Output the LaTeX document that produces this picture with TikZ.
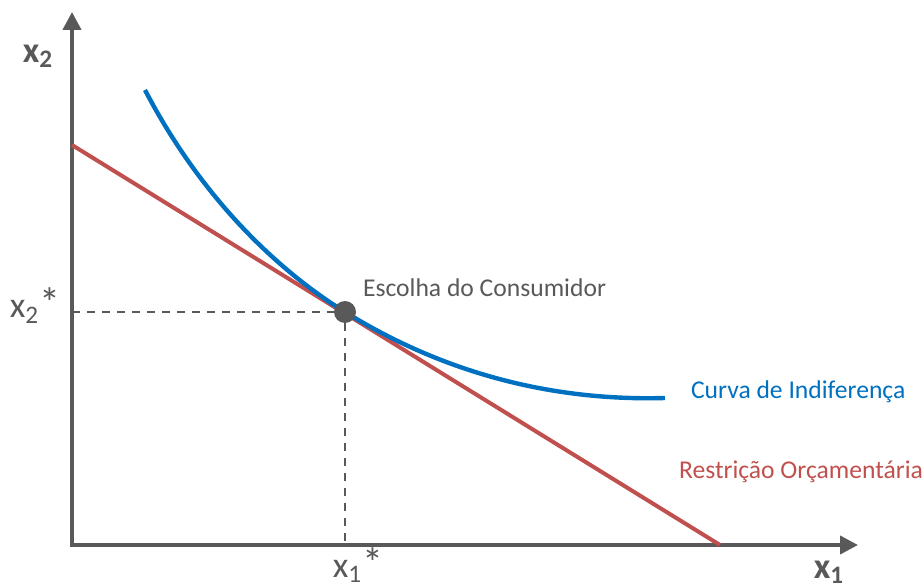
\documentclass[tikz,border=0pt]{standalone}
\usepackage{fontspec}
\setmainfont{Carlito}
\usetikzlibrary{positioning,arrows.meta}
\definecolor{axisgray}{HTML}{595959}
\definecolor{curveblue}{HTML}{0070C0}
\definecolor{budgetred}{HTML}{C0504D}
\newcommand{\optstar}{{\fontsize{21}{21}\selectfont *}}
\begin{document}
\begin{tikzpicture}[
  x=0.5pt, y=-0.5pt,
  every node/.style={font=\fontsize{12.8}{15}\selectfont, text=axisgray},
  axis/.style={draw=axisgray,line width=2pt,-{Triangle[length=9pt,width=9pt]}},
  guide/.style={draw=axisgray,dashed,line width=0.7pt,dash pattern=on 4pt off 3.5pt},
  budget/.style={draw=budgetred,line width=2pt},
  indiff/.style={draw=curveblue,line width=2.2pt},
  optimum/.style={circle,fill=axisgray,inner sep=0pt,minimum size=11pt},
  axislabel/.style={font=\fontsize{18}{20}\selectfont\bfseries},
  starlabel/.style={font=\fontsize{18}{20}\selectfont,anchor=base,inner sep=1pt}
]
\useasboundingbox (0,0) rectangle (922,588);

% eixos
\coordinate (origin) at (72,545);
\coordinate (ytop) at (72,12);
\coordinate (xend) at (858,545);
\draw[axis] ([yshift=-1pt]origin) -- (ytop);
\draw[axis] ([xshift=-1pt]origin) -- (xend);
\node[axislabel] (xtwo) at (38,56) {x\textsubscript{2}};
\node[axislabel] (xone) at (829,572) {x\textsubscript{1}};

% restrição orçamentária
\coordinate (budgettop) at (72,145);
\coordinate (budgetend) at (720,545);
\draw[budget] (budgettop) -- (budgetend);

% curva de indiferença
\coordinate (curvestart) at (145,90);
\coordinate (curveend) at (665,398);
\draw[indiff] (curvestart)
  .. controls (205,205) and (285,275) .. (345,312)
  .. controls (450,377) and (560,401) .. (curveend);

% escolha ótima
\node[optimum] (choice) at (345,312) {};
\coordinate (xtwostar) at (72,312);
\coordinate (xonestar) at (345,545);
\draw[guide] (xtwostar) -- (choice);
\draw[guide] (choice) -- (xonestar);
\node[starlabel] (xtwolabel) at (35,318) {x\textsubscript{2}\optstar};
\node[starlabel] (xonelabel) at (358,577) {x\textsubscript{1}\optstar};

% rótulos
\node[anchor=west] (choicelabel) at (356,288) {Escolha do Consumidor};
\node[anchor=west,text=curveblue] (curvelabel) at (684,392) {Curva de Indiferença};
\node[anchor=west,text=budgetred] (budgetlabel) at (672,472) {Restrição Orçamentária};
\end{tikzpicture}
\end{document}
